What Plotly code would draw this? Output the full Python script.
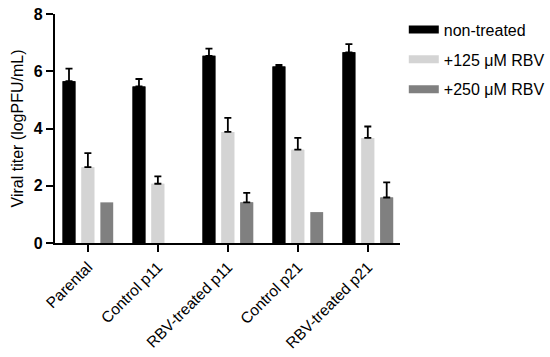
import plotly.graph_objects as go

categories = ["Parental", "Control p11", "RBV-treated p11", "Control p21", "RBV-treated p21"]
series_names = ["non-treated", "+125 μM RBV", "+250 μM RBV"]
non_treated = [5.65, 5.47, 6.54, 6.17, 6.66]
non_treated_err = [0.44, 0.26, 0.25, 0.05, 0.29]
rbv125 = [2.65, 2.07, 3.88, 3.26, 3.67]
rbv125_err = [0.49, 0.26, 0.49, 0.41, 0.40]
rbv250 = [1.42, None, 1.42, 1.08, 1.59]
rbv250_err = [None, None, 0.33, None, 0.53]
colors = ["#000000", "#d4d4d4", "#808080"]
y_ticks = [0, 2, 4, 6, 8]

values = [non_treated, rbv125, rbv250]
errors = [non_treated_err, rbv125_err, rbv250_err]

FONT = "Liberation Sans, Arial, sans-serif"

fig = go.Figure()
for i, (name, vals, errs, col) in enumerate(zip(series_names, values, errors, colors)):
    fig.add_trace(go.Bar(
        x=categories, y=vals, name=name, marker_color=col, marker_line_width=0,
        showlegend=False, offsetgroup=f"s{i}",
    ))
    fig.add_trace(go.Bar(
        x=categories,
        y=[v if e is not None else None for v, e in zip(vals, errs)],
        name=name, marker_color=col, marker_line_width=0,
        showlegend=False, offsetgroup=f"s{i}", hoverinfo="skip",
        error_y=dict(type="data", symmetric=False,
                     array=[e if e is not None else 0 for e in errs],
                     arrayminus=[0] * len(errs),
                     color="#000000", thickness=1.8, width=3.5),
    ))
for i, (name, col) in enumerate(zip(series_names, colors)):
    fig.add_trace(go.Scatter(
        x=[None], y=[None], mode="lines", name=name,
        line=dict(color=col, width=8), legendgroup=f"g{i}", showlegend=True,
    ))

fig.update_layout(
    width=550, height=357,
    margin=dict(l=55, r=150, t=14, b=114, autoexpand=False),
    plot_bgcolor="white", paper_bgcolor="white",
    barmode="group", bargap=0.19, bargroupgap=0.32,
    font=dict(family=FONT, color="#000000"),
    legend=dict(x=1.011, y=1.006, xanchor="left", yanchor="top",
                font=dict(size=16, family=FONT), tracegroupgap=6,
                itemwidth=30, bgcolor="rgba(0,0,0,0)"),
    xaxis=dict(
        showline=True, linecolor="#000000", linewidth=2.2,
        ticks="outside", ticklen=7, tickwidth=2, tickcolor="#000000",
        tickangle=-45, tickfont=dict(size=15.5, family=FONT),
        range=[-0.47, 4.46], showgrid=False, zeroline=False, automargin=False,
    ),
    yaxis=dict(
        title=dict(text="Viral titer (logPFU/mL)", font=dict(size=16, family=FONT), standoff=6),
        showline=True, linecolor="#000000", linewidth=2.2,
        ticks="outside", ticklen=7, tickwidth=2, tickcolor="#000000",
        tickvals=y_ticks, ticktext=[f"<b>{t}</b>" for t in y_ticks],
        tickfont=dict(size=16, family=FONT),
        range=[0, 8], showgrid=False, zeroline=False, automargin=False,
    ),
)

fig.write_html("out.html", config={"displayModeBar": False},
               post_script="document.body.style.margin='0';document.body.style.overflow='hidden';")
